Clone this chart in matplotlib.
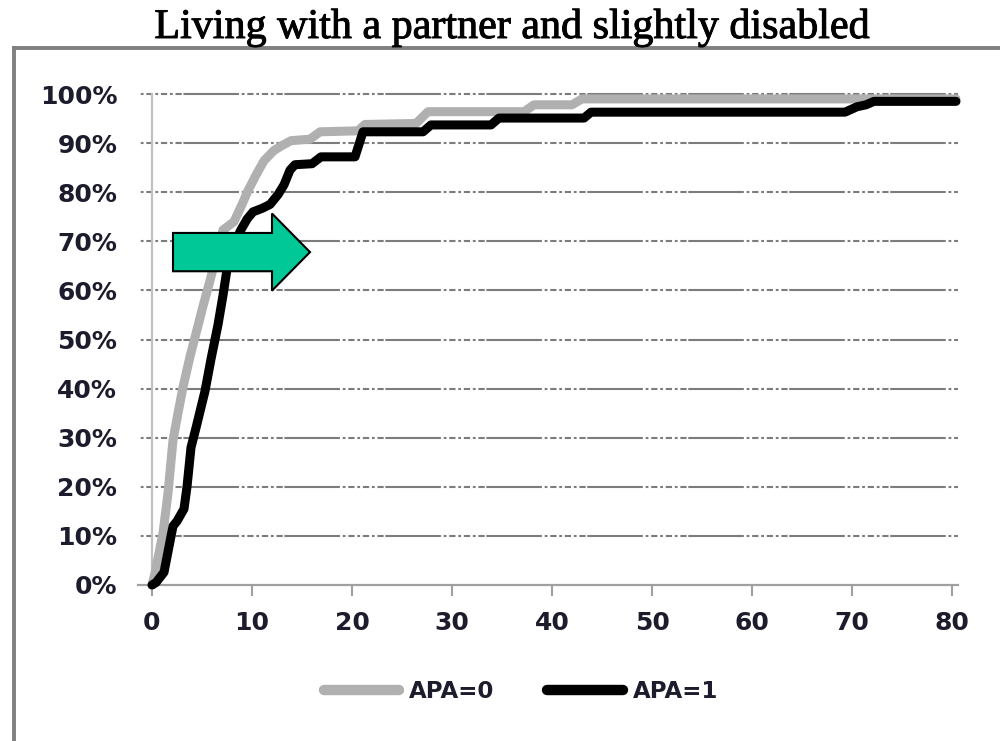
# plot.py
# Curvas acumuladas "Living with a partner and slightly disabled" (APA=0 vs APA=1)
import matplotlib
matplotlib.use("Agg")
import matplotlib.pyplot as plt
import matplotlib.patheffects as pe
from matplotlib.lines import Line2D
from matplotlib.patches import FancyArrow
from matplotlib.ticker import PercentFormatter

# Datos (x = tiempo, y = % acumulado)
apa0_x = [0, 0.3, 1.1, 1.6, 2.1, 2.6, 3.1, 3.8, 4.5, 5.1, 5.8, 6.4, 7.1, 8.2,
          9.0, 9.6, 10.4, 11.2, 12.2, 13.0, 13.9, 15.8, 16.8, 20.6, 21.3,
          26.4, 27.6, 37.2, 38.2, 42.0, 43.0, 80.4]
apa0_y = [0, 2.4, 10.6, 18.7, 29.5, 35.0, 40.3, 46.5, 52.0, 56.8, 62.0, 66.7,
          72.3, 74.0, 77.5, 80.3, 83.5, 86.4, 88.5, 89.5, 90.5, 90.8, 92.3,
          92.5, 93.8, 94.0, 96.4, 96.4, 97.8, 97.8, 99.0, 99.0]

apa1_x = [0, 0.4, 1.2, 2.1, 2.5, 3.2, 3.5, 3.9, 4.4, 5.3, 5.9, 6.6, 7.1, 7.6,
          8.2, 8.8, 9.5, 10.1, 11.0, 11.8, 12.6, 13.2, 13.8, 14.3, 16.0, 16.9,
          20.3, 21.1, 27.1, 27.9, 33.9, 34.7, 43.2, 43.9, 69.3, 70.5, 71.4,
          72.2, 80.4]
apa1_y = [0, 0.5, 2.6, 12.0, 13.0, 15.5, 20.0, 28.0, 32.0, 39.5, 46.0, 53.0,
          59.0, 65.6, 68.5, 72.0, 74.5, 76.0, 76.7, 77.5, 79.5, 81.5, 84.5,
          85.6, 85.8, 87.2, 87.2, 92.3, 92.3, 93.7, 93.7, 95.1, 95.1, 96.3,
          96.3, 97.4, 97.8, 98.5, 98.5]

x_ticks = [0, 10, 20, 30, 40, 50, 60, 70, 80]
y_ticks = [0, 10, 20, 30, 40, 50, 60, 70, 80, 90, 100]
series_labels = ["APA=0", "APA=1"]
series_colors = ["#b0b0b0", "#000000"]
title = "Living with a partner and slightly disabled"

plt.rcParams["lines.scale_dashes"] = False
plt.rcParams["font.family"] = ["DejaVu Sans"]

fig = plt.figure(figsize=(10, 7.41), dpi=100)
fig.patch.set_facecolor("white")

# marco exterior (línea gris arriba e izquierda)
frame_c = "#808080"
fig.add_artist(Line2D([14 / 1000, 14 / 1000], [0, 1 - 48 / 741],
                      transform=fig.transFigure, color=frame_c, lw=2.8))
fig.add_artist(Line2D([14 / 1000, 1], [1 - 48 / 741, 1 - 48 / 741],
                      transform=fig.transFigure, color=frame_c, lw=2.8))

ax = fig.add_axes([0.152, (741 - 585) / 741, 0.806, 491 / 741])
ax.set_xlim(0, 80.6)
ax.set_ylim(0, 100)

# líneas de cuadrícula con patrón tipo Excel escaneado
grid_dash = (40, (40, 2, 2, 2, 4.5, 2, 2, 2, 4.5, 2, 2, 2, 4.5, 1.2))
for yv in y_ticks[1:]:
    ax.axhline(yv, xmin=-14 / 806, xmax=1, color="#7c7c7c", lw=1.5,
               linestyle=grid_dash, clip_on=False, zorder=1)
ax.axhline(0, xmin=-14 / 806, xmax=1, color="#a0a0a0", lw=1.6,
           clip_on=False, zorder=1)

# ejes
for s in ["top", "right", "bottom"]:
    ax.spines[s].set_visible(False)
ax.spines["left"].set_color("#c0c0c0")
ax.spines["left"].set_linewidth(1.6)

ax.set_xticks(x_ticks)
ax.set_yticks(y_ticks)
ax.yaxis.set_major_formatter(PercentFormatter(100, decimals=0))
ax.tick_params(axis="y", length=0, pad=25, labelsize=18, labelcolor="#1c1c2c")
ax.tick_params(axis="x", length=8, width=1.5, color="#a0a0a0", direction="out",
               pad=11, labelsize=18, labelcolor="#1c1c2c")
for lab in ax.get_xticklabels() + ax.get_yticklabels():
    lab.set_fontweight("bold")

# curvas
ax.plot(apa0_x, apa0_y, color=series_colors[0], lw=6.5, solid_capstyle="round",
        solid_joinstyle="round", clip_on=False, zorder=3)
ax.plot(apa1_x, apa1_y, color=series_colors[1], lw=6.5, solid_capstyle="round",
        solid_joinstyle="round", clip_on=False, zorder=4)

# flecha verde
arrow = FancyArrow(2.1, 67.8, 13.7, 0, width=7.8, head_width=15.7,
                   head_length=3.8, length_includes_head=True,
                   facecolor="#00c896", edgecolor="black", lw=1.5, zorder=6)
ax.add_patch(arrow)

# leyenda
handles = [Line2D([], [], color=c, lw=7.5, solid_capstyle="round")
           for c in series_colors]
leg = fig.legend(handles, series_labels, loc="center",
                 bbox_to_anchor=(0.521, 1 - 692 / 741), ncol=2, frameon=False,
                 handlelength=3.3, handletextpad=0.44, columnspacing=2.3,
                 prop={"size": 16.5, "weight": "bold"})
for t in leg.get_texts():
    t.set_color("#1c1c2c")

# título (trazo algo más grueso, como en el original escaneado)
fig.text(0.512, 1 - 38 / 741, title, ha="center", va="baseline",
         fontsize=30.3, family=["Liberation Serif"], color="black",
         path_effects=[pe.withStroke(linewidth=0.7, foreground="black")])

fig.savefig("out.png", dpi=100)
